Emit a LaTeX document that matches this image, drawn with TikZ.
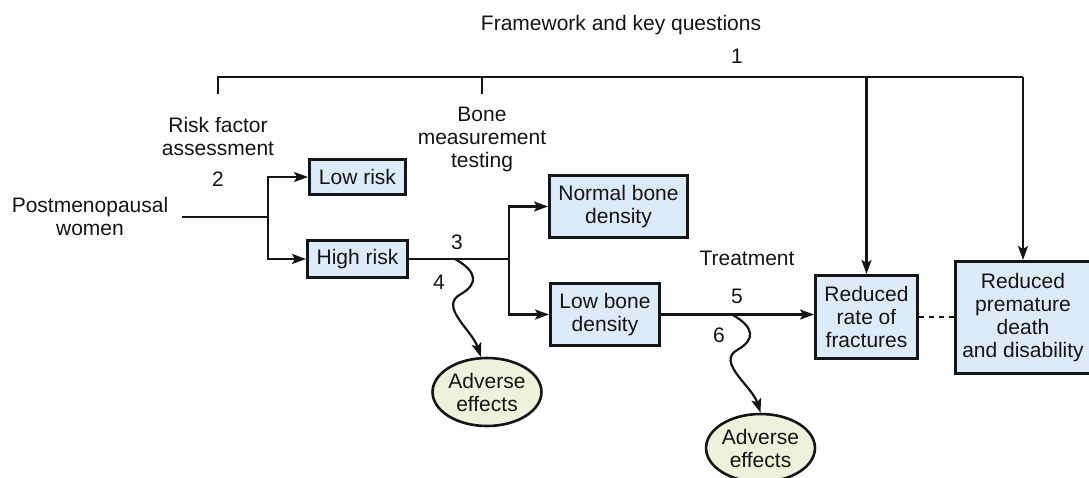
\documentclass[tikz,border=0pt]{standalone}
\usepackage{fontspec}
\setmainfont{Liberation Sans}
\usetikzlibrary{arrows.meta,shapes.geometric}
\definecolor{boxfill}{HTML}{DDEAF8}
\definecolor{ellfill}{HTML}{EEF2DC}
\definecolor{ink}{HTML}{151515}
\begin{document}
\begin{tikzpicture}[x=1pt,y=-1pt,
  every node/.style={font=\fontsize{21}{23}\selectfont, inner sep=0pt, text=ink},
  box/.style={draw=ink, line width=3pt, fill=boxfill, align=center},
  outcome/.style={ellipse, draw=ink, line width=2.6pt, fill=ellfill, align=center,
    minimum width=107, minimum height=68},
  caption/.style={align=center},
  link/.style={draw=ink, line width=2.2pt},
  arr/.style={link, -{Stealth[length=14pt,width=10pt,inset=3pt]}},
]
\fill[white] (0,0) rectangle (1089,477);
\useasboundingbox (0,0) rectangle (1089,477);

% headings and question numbers
\node[anchor=base] (title) at (621,30) {Framework and key questions};
\node[anchor=base] (k1) at (737,63) {1};
\node[caption, anchor=north] (rfa) at (218,117) {Risk factor\\assessment};
\node[anchor=base] (k2) at (218,186) {2};
\node[caption, anchor=north] (bmt) at (482,107) {Bone\\measurement\\testing};
\node[caption, anchor=north] (pmw) at (90,197) {Postmenopausal\\women};
\node[anchor=base] (k3) at (457,249) {3};
\node[anchor=base] (k4) at (439,289) {4};
\node[anchor=base] (treat) at (747,265) {Treatment};
\node[anchor=base] (k5) at (737,303) {5};
\node[anchor=base] (k6) at (719,342) {6};

% boxes
\node[box, minimum width=96, minimum height=35] (lowrisk) at (357.5,177) {Low risk};
\node[box, minimum width=100, minimum height=37] (highrisk) at (357.5,259) {High risk};
\node[box, minimum width=138, minimum height=62] (normal) at (618.5,206.5) {Normal bone\\density};
\node[box, minimum width=109, minimum height=62] (lowbone) at (605,314.5) {Low bone\\density};
\node[box, minimum width=102, minimum height=83] (reduced) at (866.5,317) {Reduced\\rate of\\fractures};
\node[box, minimum width=135, minimum height=112] (premature) at (1023,317.5) {Reduced\\premature\\death\\and disability};

% adverse effects
\node[outcome] (ae1) at (487,392) {Adverse\\effects};
\node[outcome] (ae2) at (760.5,448) {Adverse\\effects};

% framework bracket
\coordinate (ta) at (218,94);
\coordinate (bl) at (218,77);
\coordinate (br) at (1023,77);
\coordinate (tb) at (482,94);
\draw[link] (ta) -- (bl) -- (br);
\draw[link] (tb) -- (tb |- bl);
\draw[arr] (reduced.north |- bl) -- (reduced.north);
\draw[arr] (br) -- (premature.north);

% pathway
\coordinate (pm) at (182,217);
\coordinate (s1) at (268,217);
\draw[link] (pm) -- (s1);
\draw[arr] (s1) |- (lowrisk.west);
\draw[arr] (s1) |- (highrisk.west);

\coordinate (s2) at (509,259);
\draw[link] (highrisk.east) -- (s2);
\draw[arr] (s2) |- (normal.west);
\draw[arr] (s2) |- (lowbone.west);

\draw[arr] (lowbone.east) -- (lowbone.east -| reduced.west);
\draw[link, dash pattern=on 5pt off 5pt] (reduced.east) -- (reduced.east -| premature.west);

% harms
\coordinate (q4) at (455,259);
\coordinate (q6) at (732,314.5);
\draw[arr] (q4) .. controls (478,272) and (478,284) .. (461,294)
                .. controls (438,306) and (472,330) .. (ae1.100);
\draw[arr] (q6) .. controls (755,327.5) and (755,339.5) .. (738,349.5)
                .. controls (715,361.5) and (752,386) .. (ae2.north);
\end{tikzpicture}
\end{document}
